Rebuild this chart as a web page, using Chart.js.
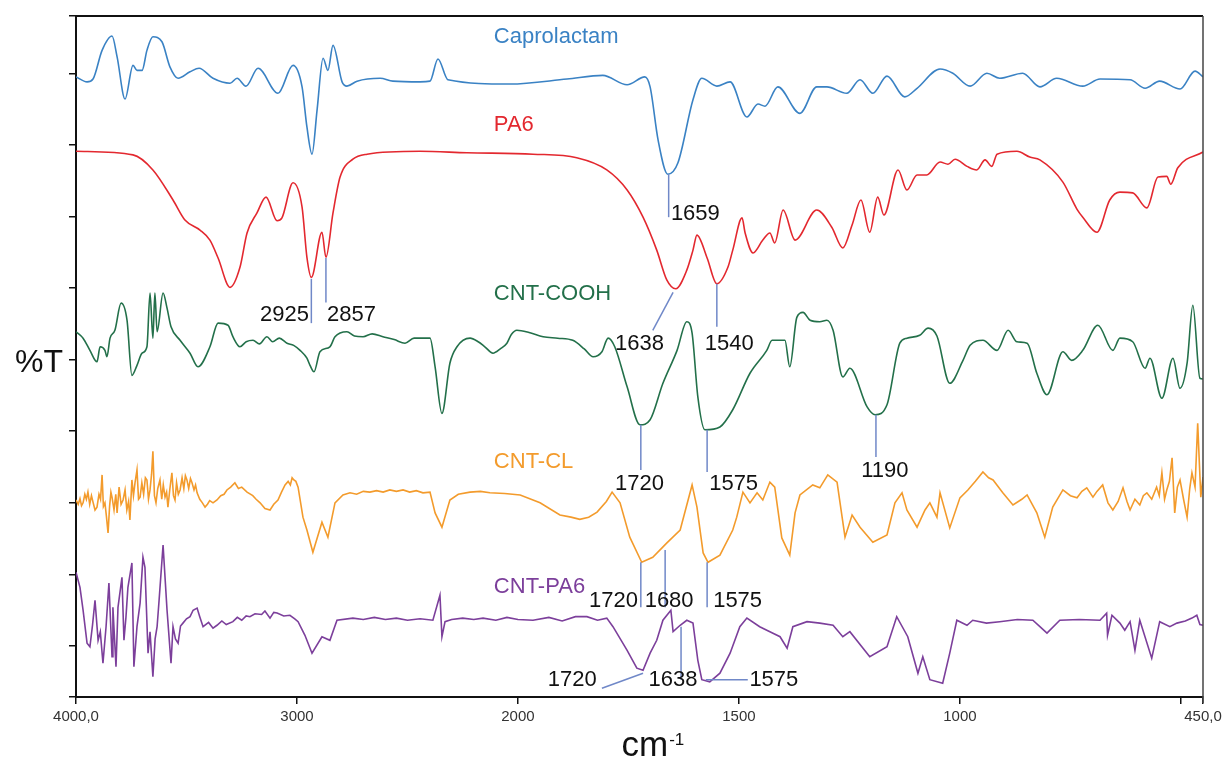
<!DOCTYPE html>
<html>
<head>
<meta charset="utf-8">
<title>FTIR spectra</title>
<script src="https://cdn.jsdelivr.net/npm/chart.js@4.4.1/dist/chart.umd.min.js"></script>
<style>
  html, body { margin: 0; padding: 0; background: #fff; overflow: hidden; }
</style>
</head>
<body>
<canvas id="ftir" width="1226" height="761"></canvas>
<script>
// wavenumber (cm-1), %T offset units (one y tick per unit)
const caprolactam = [[4000,7.95],[3950,7.88],[3923,7.92],[3882,8.32],[3837,8.52],[3814,8.23],[3778,7.64],[3742,8.11],[3724,8.04],[3701,8.04],[3679,8.32],[3652,8.51],[3611,8.44],[3575,8.09],[3538,7.93],[3484,8.02],[3443,8.07],[3380,7.93],[3303,7.86],[3271,7.93],[3231,7.82],[3176,8.07],[3086,7.72],[3018,8.11],[2977,7.81],[2955,7.25],[2932,6.87],[2909,7.49],[2882,8.21],[2860,8.04],[2837,8.39],[2796,7.88],[2774,7.82],[2728,7.89],[2624,7.93],[2566,7.89],[2443,7.88],[2398,7.89],[2362,8.20],[2317,7.91],[2036,7.85],[1889,7.92],[1808,7.97],[1753,7.84],[1713,7.95],[1701,7.81],[1683,7.07],[1661,6.59],[1638,6.75],[1604,7.63],[1584,7.93],[1550,7.82],[1520,7.88],[1482,7.39],[1457,7.57],[1441,7.54],[1412,7.81],[1362,7.44],[1324,7.81],[1301,7.81],[1256,7.72],[1226,7.91],[1197,7.72],[1165,7.96],[1125,7.67],[1097,7.79],[1045,8.06],[1016,8.00],[977,7.82],[939,8.00],[910,7.93],[858,8.00],[819,7.81],[781,7.93],[722,7.82],[683,7.92],[615,7.91],[581,7.79],[548,7.89],[502,7.78],[468,8.03],[450,7.95]];

const pa6 = [[4000,6.91],[3742,6.86],[3652,6.65],[3561,6.23],[3507,5.95],[3439,5.81],[3394,5.67],[3357,5.42],[3303,5.01],[3258,5.29],[3226,5.77],[3181,6.05],[3140,6.27],[3090,5.94],[3068,5.98],[3018,6.47],[2977,6.13],[2955,5.43],[2935,5.15],[2887,5.78],[2869,5.43],[2837,6.05],[2805,6.55],[2747,6.80],[2683,6.87],[2443,6.91],[2231,6.89],[1966,6.87],[1867,6.82],[1799,6.65],[1753,6.37],[1717,5.99],[1686,5.53],[1663,5.11],[1643,4.99],[1618,5.25],[1604,5.53],[1595,5.74],[1572,5.42],[1550,5.06],[1525,5.29],[1514,5.53],[1493,5.98],[1486,5.77],[1468,5.49],[1446,5.67],[1430,5.77],[1419,5.63],[1400,6.09],[1373,5.67],[1324,6.09],[1290,5.85],[1265,5.56],[1244,5.88],[1224,6.23],[1204,5.78],[1186,6.27],[1172,6.02],[1140,6.65],[1120,6.37],[1097,6.58],[1075,6.58],[1045,6.76],[1027,6.73],[1011,6.80],[984,6.70],[962,6.65],[943,6.79],[928,6.70],[916,6.87],[871,6.91],[842,6.83],[819,6.79],[767,6.48],[735,6.10],[722,5.99],[690,5.78],[661,6.23],[638,6.34],[609,6.33],[577,6.12],[552,6.55],[532,6.56],[523,6.45],[507,6.68],[450,6.90]];

const cntCooh = [[4000,4.39],[3968,4.30],[3937,4.13],[3905,3.97],[3891,4.18],[3869,4.13],[3860,4.04],[3846,4.30],[3824,4.41],[3796,4.79],[3769,4.55],[3747,3.78],[3724,3.92],[3701,4.09],[3679,4.18],[3665,4.93],[3652,4.30],[3643,4.93],[3633,4.39],[3606,4.93],[3588,4.72],[3570,4.46],[3529,4.27],[3484,4.09],[3448,3.90],[3394,4.18],[3357,4.51],[3312,4.48],[3290,4.32],[3258,4.18],[3230,4.25],[3199,4.27],[3170,4.22],[3136,4.32],[3110,4.25],[3080,4.30],[3045,4.23],[3015,4.20],[2986,4.13],[2955,4.02],[2941,3.92],[2923,3.83],[2896,4.11],[2851,4.18],[2828,4.32],[2774,4.39],[2740,4.33],[2701,4.32],[2660,4.36],[2611,4.32],[2560,4.28],[2511,4.23],[2470,4.30],[2443,4.30],[2398,4.30],[2375,3.90],[2344,3.25],[2308,3.95],[2276,4.18],[2217,4.30],[2180,4.25],[2150,4.18],[2113,4.09],[2080,4.15],[2050,4.23],[2030,4.35],[2005,4.41],[1975,4.38],[1943,4.32],[1910,4.30],[1876,4.27],[1850,4.15],[1830,4.04],[1810,4.11],[1796,4.30],[1781,4.18],[1753,3.62],[1724,3.09],[1701,3.16],[1672,3.67],[1640,4.13],[1618,4.53],[1606,4.37],[1593,3.48],[1577,3.02],[1543,3.06],[1514,3.30],[1475,3.81],[1437,4.13],[1425,4.27],[1396,4.27],[1385,3.90],[1369,4.59],[1355,4.66],[1339,4.55],[1317,4.53],[1301,4.55],[1287,4.41],[1265,3.76],[1249,3.88],[1210,3.34],[1192,3.23],[1165,3.37],[1136,4.23],[1120,4.30],[1091,4.34],[1072,4.44],[1052,4.33],[1023,3.67],[993,3.99],[977,4.20],[948,4.27],[916,4.13],[891,4.41],[871,4.25],[848,4.23],[826,3.81],[803,3.51],[767,4.11],[747,3.99],[722,4.13],[688,4.48],[654,4.13],[638,4.30],[609,4.25],[581,3.88],[570,4.02],[543,3.46],[518,4.02],[502,3.60],[486,3.95],[473,4.76],[457,3.74],[450,3.73]];

const cntCl = [[4000,2.04],[3990,1.98],[3982,2.06],[3975,1.96],[3968,2.00],[3960,2.12],[3953,2.05],[3946,2.15],[3938,1.98],[3930,2.10],[3923,2.01],[3914,1.90],[3905,1.94],[3896,2.12],[3889,2.05],[3882,2.39],[3876,1.95],[3869,2.00],[3862,1.80],[3855,1.58],[3848,1.95],[3842,2.15],[3837,2.08],[3828,1.90],[3820,2.12],[3814,1.86],[3805,2.22],[3796,1.98],[3787,2.04],[3778,2.18],[3770,1.90],[3762,2.02],[3756,1.76],[3747,2.32],[3740,2.10],[3733,2.28],[3724,2.46],[3717,2.05],[3710,2.08],[3702,2.28],[3694,2.12],[3686,2.35],[3679,2.32],[3672,2.05],[3665,2.18],[3658,2.40],[3652,2.72],[3645,2.10],[3638,2.00],[3630,2.20],[3620,2.32],[3612,2.05],[3605,2.25],[3597,2.08],[3590,2.15],[3584,1.94],[3575,2.20],[3566,2.42],[3559,2.10],[3552,2.04],[3545,2.28],[3537,2.12],[3529,2.18],[3520,2.35],[3512,2.20],[3505,2.38],[3498,2.32],[3490,2.20],[3482,2.34],[3475,2.28],[3466,2.18],[3459,2.25],[3452,2.14],[3440,2.05],[3428,2.00],[3416,1.94],[3405,1.98],[3395,2.03],[3380,2.00],[3362,2.04],[3345,2.10],[3330,2.12],[3317,2.18],[3300,2.22],[3281,2.28],[3265,2.20],[3250,2.22],[3226,2.15],[3200,2.10],[3185,2.05],[3167,2.00],[3145,1.92],[3122,1.90],[3105,1.98],[3086,2.04],[3070,2.15],[3054,2.25],[3040,2.30],[3030,2.25],[3022,2.35],[3014,2.32],[3005,2.30],[2995,2.22],[2973,1.80],[2955,1.62],[2928,1.31],[2887,1.73],[2860,1.52],[2828,2.00],[2792,2.11],[2760,2.14],[2730,2.12],[2700,2.16],[2670,2.15],[2640,2.17],[2610,2.15],[2580,2.18],[2550,2.16],[2520,2.18],[2490,2.15],[2460,2.17],[2430,2.14],[2398,2.15],[2375,1.86],[2344,1.66],[2308,2.04],[2270,2.12],[2217,2.15],[2170,2.16],[2127,2.14],[2060,2.13],[1995,2.11],[1950,2.00],[1905,1.83],[1880,1.80],[1860,1.77],[1840,1.80],[1821,1.87],[1800,2.02],[1787,2.15],[1769,2.00],[1747,1.52],[1720,1.17],[1695,1.24],[1663,1.44],[1633,1.62],[1606,2.25],[1595,1.94],[1581,1.30],[1570,1.17],[1543,1.27],[1514,1.62],[1505,1.80],[1491,2.15],[1475,2.00],[1459,2.14],[1446,2.04],[1430,2.29],[1419,2.22],[1403,1.51],[1385,1.27],[1373,1.86],[1362,2.11],[1333,2.25],[1317,2.21],[1299,2.39],[1278,2.29],[1260,1.52],[1244,1.83],[1226,1.66],[1197,1.45],[1165,1.55],[1147,2.00],[1131,2.14],[1120,1.90],[1097,1.66],[1079,1.90],[1068,2.00],[1052,1.80],[1045,2.14],[1023,1.65],[1000,2.07],[982,2.18],[965,2.30],[948,2.43],[935,2.35],[925,2.32],[903,2.14],[880,1.97],[860,2.05],[848,2.11],[826,1.86],[808,1.52],[790,1.94],[767,2.18],[750,2.10],[735,2.07],[724,2.16],[713,2.21],[699,2.08],[690,2.16],[677,2.25],[665,2.00],[654,1.90],[642,2.02],[631,2.21],[622,2.02],[615,1.90],[604,2.05],[593,1.97],[585,2.10],[577,2.14],[566,2.05],[555,2.22],[549,2.10],[543,2.42],[537,2.05],[532,2.18],[526,2.30],[520,2.63],[514,1.86],[508,2.22],[502,2.32],[494,2.05],[486,1.80],[480,2.20],[475,2.42],[468,2.22],[462,3.11],[455,2.08],[450,2.36]];

const cntPa6 = [[4000,1.03],[3982,0.82],[3968,0.50],[3950,0.04],[3937,-0.01],[3925,0.30],[3914,0.64],[3900,0.08],[3890,0.20],[3878,-0.24],[3864,0.27],[3851,0.88],[3837,-0.15],[3833,0.54],[3819,-0.29],[3810,0.54],[3792,0.96],[3783,0.08],[3774,0.40],[3765,0.82],[3747,1.16],[3738,-0.29],[3724,0.27],[3710,0.60],[3697,1.24],[3688,1.10],[3674,-0.10],[3665,0.20],[3652,-0.43],[3642,0.10],[3633,0.27],[3624,0.64],[3606,1.41],[3588,0.50],[3570,-0.24],[3561,0.27],[3550,0.10],[3538,0.04],[3527,0.28],[3516,0.32],[3500,0.38],[3484,0.41],[3470,0.50],[3452,0.53],[3440,0.41],[3425,0.27],[3400,0.33],[3380,0.25],[3362,0.29],[3340,0.35],[3320,0.30],[3290,0.34],[3270,0.40],[3250,0.36],[3230,0.42],[3213,0.41],[3190,0.45],[3160,0.44],[3145,0.49],[3122,0.39],[3105,0.47],[3090,0.46],[3060,0.42],[3032,0.43],[3010,0.38],[2995,0.34],[2964,0.15],[2932,-0.10],[2887,0.13],[2851,0.08],[2819,0.36],[2747,0.39],[2700,0.37],[2650,0.40],[2600,0.37],[2550,0.39],[2500,0.36],[2443,0.38],[2385,0.36],[2353,0.71],[2344,0.13],[2330,0.34],[2300,0.37],[2250,0.39],[2200,0.37],[2158,0.39],[2100,0.36],[2050,0.40],[2000,0.37],[1966,0.36],[1930,0.40],[1900,0.35],[1870,0.41],[1844,0.41],[1820,0.36],[1799,0.39],[1785,0.27],[1753,-0.06],[1731,-0.31],[1717,-0.34],[1701,-0.10],[1686,0.08],[1672,0.36],[1654,0.50],[1649,0.20],[1633,0.29],[1618,0.36],[1604,0.32],[1593,-0.20],[1584,-0.47],[1566,-0.50],[1543,-0.38],[1520,-0.10],[1498,0.27],[1482,0.39],[1453,0.27],[1430,0.20],[1407,0.13],[1391,-0.03],[1378,0.27],[1346,0.34],[1317,0.32],[1287,0.29],[1265,0.13],[1249,0.20],[1204,-0.15],[1165,-0.01],[1143,0.41],[1118,0.13],[1095,-0.38],[1084,-0.15],[1068,-0.47],[1039,-0.52],[1023,-0.10],[1007,0.36],[984,0.29],[971,0.36],[940,0.32],[910,0.34],[870,0.37],[835,0.36],[819,0.27],[803,0.18],[774,0.36],[730,0.37],[683,0.36],[668,0.46],[666,0.15],[656,0.43],[638,0.32],[627,0.22],[615,0.34],[604,-0.06],[593,0.36],[566,-0.17],[548,0.34],[525,0.27],[509,0.32],[490,0.35],[475,0.39],[464,0.43],[457,0.30],[450,0.29]];

const seriesNames = ['Caprolactam', 'PA6', 'CNT-COOH', 'CNT-CL', 'CNT-PA6'];
const seriesColors = ['#3a82c4', '#e3282f', '#23704a', '#f39b2c', '#7c3f9b'];

const xTicks = [4000, 3000, 2000, 1500, 1000, 500, 450];
const xTickLabels = ['4000,0', '3000', '2000', '1500', '1000', '', '450,0'];
const yTicks = [-0.712, 0, 1, 2, 3, 4, 5, 6, 7, 8, 8.8];

// peak markers: [wn1, v1, wn2, v2]
const peakLines = [
  [1659, 6.59, 1659, 5.99],
  [2935, 5.13, 2935, 4.51],
  [2869, 5.42, 2869, 4.80],
  [1649, 4.94, 1695, 4.41],
  [1550, 5.06, 1550, 4.46],
  [1722, 3.09, 1722, 2.46],
  [1572, 3.02, 1572, 2.43],
  [1190, 3.23, 1190, 2.64],
  [1722, 1.17, 1722, 0.54],
  [1667, 1.34, 1667, 0.54],
  [1572, 1.17, 1572, 0.54],
  [1717, -0.38, 1810, -0.59],
  [1631, 0.27, 1631, -0.47],
  [1575, -0.47, 1480, -0.47]
];
// peak texts: [text, wn, v, align]
const peakTexts = [
  ['1659', 1654, 6.04, 'left'],
  ['2925', 2946, 4.63, 'right'],
  ['2857', 2864, 4.63, 'left'],
  ['1638', 1725, 4.22, 'center'],
  ['1540', 1522, 4.22, 'center'],
  ['1720', 1725, 2.27, 'center'],
  ['1575', 1512, 2.27, 'center'],
  ['1190', 1170, 2.44, 'center'],
  ['1720', 1784, 0.63, 'center'],
  ['1680', 1658, 0.63, 'center'],
  ['1575', 1503, 0.63, 'center'],
  ['1720', 1877, -0.47, 'center'],
  ['1638', 1649, -0.47, 'center'],
  ['1575', 1421, -0.47, 'center']
];
const nameAt = [[2109, 8.51], [2109, 7.28], [2109, 4.92], [2109, 2.57], [2109, 0.82]];

const FONT = '"Liberation Sans", Arial, sans-serif';

// wavenumber axis with a 2x expansion below 2000 cm-1
const xMax = 4000, xBreak = 2000, xMin = 450;
function axisSpan(wn) {
  return wn >= xBreak ? xMax - wn : (xMax - xBreak) + (xBreak - wn) * 2;
}
const fullSpan = axisSpan(xMin);

class FtirScale extends Chart.LinearScale {
  buildTicks() {
    return xTicks.map((v) => ({ value: v }));
  }
  getPixelForValue(value) {
    return this.left + (this.width * axisSpan(value)) / fullSpan;
  }
  getValueForPixel(pixel) {
    const s = ((pixel - this.left) / this.width) * fullSpan;
    return s <= xMax - xBreak ? xMax - s : xBreak - (s - (xMax - xBreak)) / 2;
  }
}
FtirScale.id = 'ftir';
FtirScale.defaults = Chart.LinearScale.defaults;
Chart.register(FtirScale);

const toPoints = (arr) => arr.map(([x, y]) => ({ x, y }));
const allSeries = [caprolactam, pa6, cntCooh, cntCl, cntPa6];

const marksPlugin = {
  id: 'ftirMarks',
  afterDraw(chart) {
    const { ctx, chartArea: a, scales } = chart;
    const x = scales.x, y = scales.y;
    ctx.save();

    // frame top / right
    ctx.strokeStyle = '#111';
    ctx.lineWidth = 2;
    ctx.beginPath();
    ctx.moveTo(a.left, a.top);
    ctx.lineTo(a.right, a.top);
    ctx.stroke();
    ctx.strokeStyle = '#444';
    ctx.lineWidth = 1.5;
    ctx.beginPath();
    ctx.moveTo(a.right, a.top);
    ctx.lineTo(a.right, a.bottom + 6);
    ctx.stroke();

    // peak marker lines
    ctx.strokeStyle = '#7088c8';
    ctx.lineWidth = 1.5;
    peakLines.forEach(([w1, v1, w2, v2]) => {
      ctx.beginPath();
      ctx.moveTo(x.getPixelForValue(w1), y.getPixelForValue(v1));
      ctx.lineTo(x.getPixelForValue(w2), y.getPixelForValue(v2));
      ctx.stroke();
    });

    // peak numbers
    ctx.font = '22px ' + FONT;
    ctx.fillStyle = '#111';
    ctx.textBaseline = 'middle';
    peakTexts.forEach(([t, w, v, al]) => {
      ctx.textAlign = al;
      ctx.fillText(t, x.getPixelForValue(w), y.getPixelForValue(v));
    });

    // series names
    ctx.textAlign = 'left';
    chart.data.datasets.forEach((ds, i) => {
      ctx.fillStyle = ds.borderColor;
      ctx.fillText(ds.label, x.getPixelForValue(nameAt[i][0]), y.getPixelForValue(nameAt[i][1]));
    });

    // axis titles
    ctx.fillStyle = '#111';
    ctx.textBaseline = 'alphabetic';
    ctx.font = '32px ' + FONT;
    ctx.fillText('%T', 15, (a.top + a.bottom) / 2 + 15.5);

    ctx.font = '35px ' + FONT;
    const cmW = ctx.measureText('cm').width;
    const cx = (a.left + a.right) / 2 - 18;
    ctx.fillText('cm', cx, 756);
    ctx.font = '17px ' + FONT;
    ctx.fillText('-1', cx + cmW + 1, 745);

    ctx.restore();
  }
};

new Chart(document.getElementById('ftir'), {
  type: 'line',
  data: {
    datasets: allSeries.map((s, i) => ({
      label: seriesNames[i],
      data: toPoints(s),
      borderColor: seriesColors[i],
      borderWidth: 1.6,
      pointRadius: 0,
      fill: false,
      cubicInterpolationMode: i < 3 ? 'monotone' : 'default',
      tension: 0
    }))
  },
  options: {
    responsive: false,
    animation: false,
    layout: { padding: { top: 16, right: 23, left: 0, bottom: 0 } },
    plugins: {
      legend: { display: false },
      tooltip: { enabled: false }
    },
    scales: {
      x: {
        type: 'ftir',
        min: xMin,
        max: xMax,
        afterFit: (scale) => { scale.height = 64; },
        grid: { drawOnChartArea: false, drawTicks: true, tickLength: 7, color: '#111', lineWidth: 1.5 },
        border: { display: true, color: '#111', width: 2 },
        ticks: {
          autoSkip: false,
          maxRotation: 0,
          padding: 4,
          color: '#333',
          font: { size: 15, family: FONT },
          callback: (value, index) => xTickLabels[index]
        }
      },
      y: {
        type: 'linear',
        min: yTicks[0],
        max: yTicks[yTicks.length - 1],
        afterBuildTicks: (scale) => { scale.ticks = yTicks.map((v) => ({ value: v })); },
        afterFit: (scale) => { scale.width = 76; },
        grid: { drawOnChartArea: false, drawTicks: true, tickLength: 7, color: '#111', lineWidth: 1.5 },
        border: { display: true, color: '#111', width: 2 },
        ticks: { display: false }
      }
    }
  },
  plugins: [marksPlugin]
});
</script>
</body>
</html>
